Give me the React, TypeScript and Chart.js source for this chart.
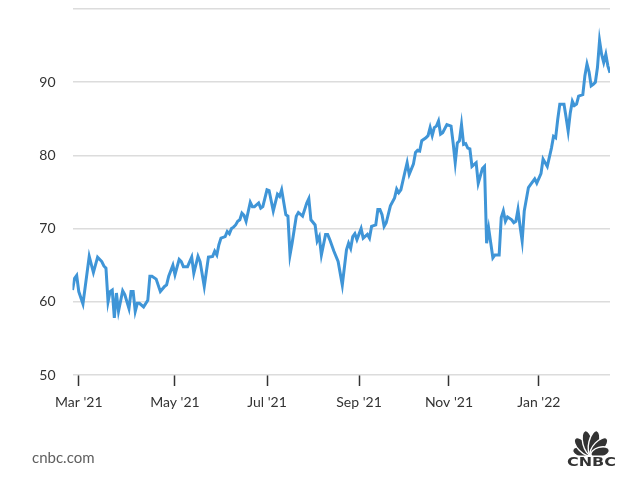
import React, { useEffect, useRef } from "react";
import { Chart, registerables } from "chart.js";

Chart.register(...registerables);

// Trading-session index (x) and index value (y)
const sessions = [
  0, 1, 2, 3, 5, 8, 10, 12, 14, 15, 16, 17, 18, 19, 20, 21, 22, 24, 25, 27, 28, 29, 30, 31, 32, 34, 36, 37, 38, 40,
  42, 44, 45, 46, 48, 49, 51, 52, 53, 55, 57, 58, 60, 61, 63, 65, 67, 68, 69, 70, 71, 73, 74, 75, 76, 77, 78, 79, 80, 81,
  82, 83, 85, 86, 87, 89, 90, 91, 93, 94, 96, 98, 99, 100, 102, 103, 104, 105, 107, 108, 110, 112, 113, 114, 116, 117, 118, 119, 121, 122,
  123, 125, 127, 129, 131, 132, 133, 134, 135, 136, 138, 139, 141, 142, 143, 145, 146, 147, 148, 149, 150, 152, 154, 155, 156, 157, 159, 160, 161, 163,
  164, 165, 166, 167, 169, 170, 171, 172, 173, 174, 175, 176, 177, 179, 181, 182, 183, 184, 185, 186, 187, 188, 189, 190, 191, 193, 194, 196, 197, 198,
  199, 200, 201, 202, 204, 205, 206, 207, 208, 210, 211, 212, 213, 214, 215, 216, 217, 218, 219, 221, 222, 224, 225, 227, 229, 230, 231, 232, 233, 235,
  236, 237, 238, 239, 240, 241, 242, 243, 244, 245, 246, 247, 248, 249, 250, 251, 252, 253, 254, 255, 256, 257,
];
const values = [
  61.6, 63.2, 63.6, 61.4, 59.7, 66.2, 64.0, 66.1, 65.5, 64.9, 64.6, 60.0, 61.4, 61.6, 57.8, 61.2, 58.7, 61.5, 61.0, 59.1, 61.4, 61.4, 58.7, 59.8, 59.8, 59.3, 60.2, 63.5, 63.5, 63.1,
  61.4, 62.1, 62.3, 63.5, 65.0, 63.7, 65.8, 65.5, 64.8, 64.8, 66.1, 63.9, 66.2, 65.5, 62.1, 66.1, 66.2, 66.9, 66.4, 67.8, 68.7, 68.9, 69.6, 69.3, 70.0, 70.2, 70.5, 71.0, 71.2, 72.1,
  71.8, 71.0, 73.6, 73.0, 73.0, 73.5, 72.8, 73.0, 75.3, 75.2, 72.4, 74.7, 74.4, 75.3, 71.9, 71.7, 66.4, 68.0, 71.7, 72.2, 71.7, 73.5, 74.1, 71.2, 70.5, 68.3, 68.9, 66.4, 69.2, 69.2,
  68.5, 66.9, 65.5, 62.3, 67.1, 68.0, 67.3, 68.9, 69.3, 68.5, 70.0, 68.7, 69.2, 68.7, 70.3, 70.5, 72.6, 72.6, 71.9, 70.3, 70.8, 73.1, 74.2, 75.4, 74.9, 75.3, 77.8, 79.0, 77.4, 78.8,
  80.4, 80.7, 80.6, 82.0, 82.4, 82.7, 83.8, 82.7, 83.8, 84.0, 84.7, 82.9, 83.1, 84.2, 84.0, 81.7, 79.0, 81.7, 82.0, 84.2, 81.5, 81.6, 81.0, 80.9, 78.5, 79.0, 76.2, 78.2, 78.5, 68.0,
  70.0, 68.0, 66.0, 66.4, 66.4, 71.5, 72.4, 71.0, 71.6, 71.2, 70.8, 71.0, 72.6, 70.3, 68.3, 72.4, 74.0, 75.6, 76.0, 76.8, 76.2, 77.5, 79.5, 78.5, 81.0, 82.6, 82.4, 84.9, 87.0, 87.0,
  85.2, 83.3, 85.8, 87.4, 86.8, 87.0, 88.1, 88.2, 88.3, 90.9, 92.5, 91.4, 89.5, 89.7, 90.0, 92.0, 95.7, 93.8, 92.7, 93.8, 92.2, 91.3,
];

const tickSessions = [3, 49, 93, 137, 180, 223];
const tickLabels = ["Mar '21", "May '21", "Jul '21", "Sep '21", "Nov '21", "Jan '22"];
const yTicks = [50, 60, 70, 80, 90, 100];

const FONT = "Lato, 'Open Sans', sans-serif";

const footerPlugin = {
  id: "footer",
  afterDraw(chart: any) {
    const ctx = chart.ctx as CanvasRenderingContext2D;
    ctx.save();
    ctx.fillStyle = "#5f5f5f";
    ctx.font = `15px ${FONT}`;
    ctx.textBaseline = "middle";
    ctx.textAlign = "left";
    ctx.fillText("cnbc.com", 32, 458);

    // CNBC peacock
    const bx = 591;
    const by = 455;
    const angles = [-74, -44, -14, 14, 44, 74];
    const lens = [19, 23, 25, 25, 23, 19];
    ctx.fillStyle = "#333333";
    ctx.strokeStyle = "#ffffff";
    ctx.lineWidth = 1.4;
    angles.forEach((a, i) => {
      const r = (a * Math.PI) / 180;
      const L = lens[i];
      const cx = bx + Math.sin(r) * (L / 2);
      const cy = by - Math.cos(r) * (L / 2);
      ctx.beginPath();
      ctx.ellipse(cx, cy, 5.2, L / 2, r, 0, Math.PI * 2);
      ctx.fill();
      ctx.stroke();
    });
    ctx.fillStyle = "#ffffff";
    ctx.fillRect(560, 455.5, 62, 3);

    ctx.fillStyle = "#333333";
    ctx.font = `bold 12px 'DejaVu Sans', sans-serif`;
    ctx.textBaseline = "alphabetic";
    const w = ctx.measureText("CNBC").width;
    ctx.translate(567, 466);
    ctx.scale(49 / w, 1);
    ctx.fillText("CNBC", 0, 0);
    ctx.restore();
  },
};

export default function App() {
  const ref = useRef<HTMLCanvasElement | null>(null);

  useEffect(() => {
    document.body.style.margin = "0";
    const canvas = ref.current;
    if (!canvas) return;
    const chart = new Chart(canvas, {
      type: "line",
      data: {
        datasets: [
          {
            data: sessions.map((s, i) => ({ x: s, y: values[i] })),
            borderColor: "#3f95d7",
            borderWidth: 3,
            pointRadius: 0,
            tension: 0,
            fill: false,
          },
        ],
      },
      options: {
        animation: false,
        responsive: false,
        devicePixelRatio: 1,
        layout: { padding: { left: 0, right: 30, top: 9, bottom: 77 } },
        plugins: { legend: { display: false }, tooltip: { enabled: false } },
        scales: {
          x: {
            type: "linear",
            min: 0,
            max: 257,
            afterBuildTicks: (scale: any) => {
              scale.ticks = tickSessions.map((v) => ({ value: v }));
            },
            afterFit: (scale: any) => {
              scale.height = 40;
              scale.paddingLeft = 0;
              scale.paddingRight = 0;
            },
            border: { display: false },
            grid: {
              drawOnChartArea: false,
              drawTicks: true,
              tickLength: 11,
              tickColor: "#333333",
              tickWidth: 1.5,
            },
            ticks: {
              autoSkip: false,
              maxRotation: 0,
              padding: 8,
              color: "#333333",
              font: { family: FONT, size: 14 },
              callback: (v: any) => {
                const i = tickSessions.indexOf(Number(v));
                return i >= 0 ? tickLabels[i] : "";
              },
            },
          },
          y: {
            type: "linear",
            min: 50,
            max: 100,
            afterBuildTicks: (scale: any) => {
              scale.ticks = yTicks.map((v) => ({ value: v }));
            },
            afterFit: (scale: any) => {
              scale.width = 72.5;
              scale.paddingTop = 0;
              scale.paddingBottom = 0;
            },
            border: { display: false },
            grid: {
              color: "#dcdcdc",
              lineWidth: 1.5,
              drawTicks: false,
            },
            ticks: {
              padding: 17,
              color: "#333333",
              font: { family: FONT, size: 14 },
              callback: (v: any) => (Number(v) === 100 ? "" : String(v)),
            },
          },
        },
      },
      plugins: [footerPlugin],
    } as any);
    return () => chart.destroy();
  }, []);

  return (
    <div style={{ width: 640, height: 492 }}>
      <canvas ref={ref} width={640} height={492} style={{ display: "block" }} />
    </div>
  );
}
